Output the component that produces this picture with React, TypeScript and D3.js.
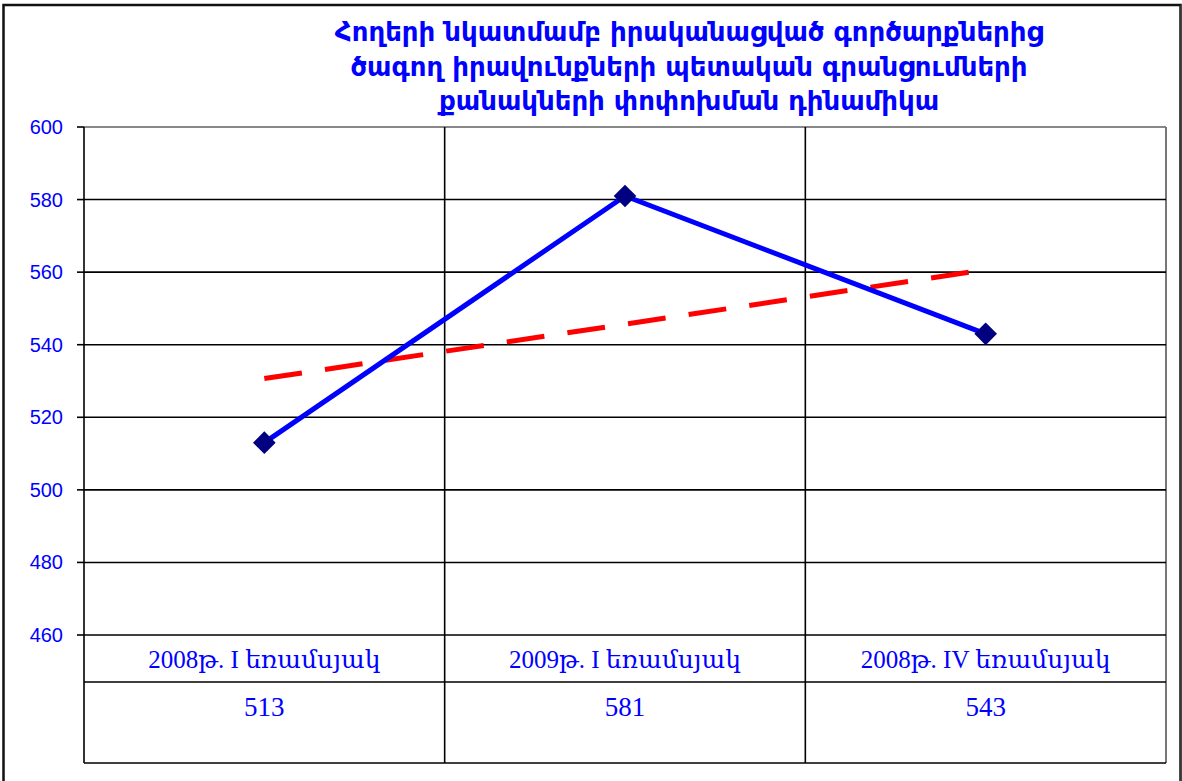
import React from "react";
import * as d3 from "d3";

const categories = ["2008թ. I եռամսյակ", "2009թ. I եռամսյակ", "2008թ. IV եռամսյակ"];
const values = [513, 581, 543];
const yTicks = [460, 480, 500, 520, 540, 560, 580, 600];
const titleLines = [
  "Հողերի նկատմամբ իրականացված գործարքներից",
  "ծագող իրավունքների պետական գրանցումների",
  "քանակների փոփոխման դինամիկա",
];

const W = 1182;
const H = 781;
const plotL = 84;
const plotR = 1166;
const plotT = 127;
const plotB = 635;
const row1B = 682;
const tableB = 763;

export default function App() {
  const x = d3
    .scaleBand<string>()
    .domain(categories)
    .range([plotL, plotR]);
  const cx = (i: number) => (x(categories[i]) as number) + x.bandwidth() / 2;
  const y = d3.scaleLinear().domain([460, 600]).range([plotB, plotT]);

  // linear trendline (least squares) over category index
  const n = values.length;
  const mx = d3.mean(d3.range(n)) as number;
  const my = d3.mean(values) as number;
  const slope =
    d3.sum(d3.range(n), (i) => (i - mx) * (values[i] - my)) /
    d3.sum(d3.range(n), (i) => (i - mx) * (i - mx));
  const icpt = my - slope * mx;
  const trend = d3.range(n).map((i) => icpt + slope * i);

  const line = d3
    .line<number>()
    .x((_, i) => cx(i))
    .y((d) => y(d));
  const trendLine = d3
    .line<number>()
    .x((_, i) => cx(i === 0 ? 0 : n - 1))
    .y((d) => y(d));

  const blue = "#0000ff";

  return (
    <svg
      width={W}
      height={H}
      style={{ position: "absolute", left: 0, top: 0 }}
    >
      <rect x={0} y={0} width={W} height={H} fill="#fff" />
      {/* outer border */}
      <rect
        x={3.5}
        y={5}
        width={1177}
        height={790}
        fill="none"
        stroke="#111"
        strokeWidth={2.5}
      />
      <line x1={1181} y1={5} x2={1181} y2={H} stroke="#444" strokeWidth={1.5} />

      {/* title */}
      {titleLines.map((t, i) => (
        <text
          key={i}
          x={689}
          y={41 + i * 34.5}
          textAnchor="middle"
          fill={blue}
          fontFamily="DejaVu Sans, sans-serif"
          fontWeight="bold"
          fontSize={26}
        >
          {t}
        </text>
      ))}

      {/* plot top and right border */}
      <line x1={plotL} y1={plotT} x2={plotR} y2={plotT} stroke="#888" strokeWidth={2} />
      <line x1={plotR} y1={plotT} x2={plotR} y2={tableB} stroke="#777" strokeWidth={2} />

      {/* horizontal gridlines */}
      {yTicks.map((t) => (
        <g key={t}>
          {t !== 600 && (
            <line x1={plotL} x2={plotR} y1={y(t)} y2={y(t)} stroke="#000" strokeWidth={1.6} />
          )}
          <line x1={77} x2={plotL} y1={y(t)} y2={y(t)} stroke="#000" strokeWidth={1.6} />
          <text
            x={63}
            y={y(t) + 7}
            textAnchor="end"
            fill={blue}
            fontFamily="Liberation Sans, Arial, sans-serif"
            fontSize={20}
          >
            {t}
          </text>
        </g>
      ))}

      {/* vertical category dividers through plot and table */}
      {categories.slice(1).map((c) => (
        <line
          key={c}
          x1={x(c) as number}
          x2={x(c) as number}
          y1={plotT}
          y2={tableB}
          stroke="#000"
          strokeWidth={1.6}
        />
      ))}
      {/* left axis */}
      <line x1={plotL} x2={plotL} y1={plotT} y2={tableB} stroke="#000" strokeWidth={1.6} />

      {/* table lines */}
      <line x1={plotL} x2={plotR} y1={row1B} y2={row1B} stroke="#000" strokeWidth={1.6} />
      <line x1={plotL} x2={plotR} y1={tableB} y2={tableB} stroke="#000" strokeWidth={1.6} />

      {categories.map((c, i) => (
        <g key={c}>
          <text
            x={cx(i)}
            y={668}
            textAnchor="middle"
            fill={blue}
            fontFamily="Liberation Serif, DejaVu Serif, serif"
            fontSize={25}
          >
            {c}
          </text>
          <text
            x={cx(i)}
            y={716}
            textAnchor="middle"
            fill={blue}
            fontFamily="Liberation Serif, DejaVu Serif, serif"
            fontSize={27}
          >
            {values[i]}
          </text>
        </g>
      ))}

      {/* trendline */}
      <path
        d={trendLine([trend[0], trend[n - 1]]) as string}
        fill="none"
        stroke="#ff0000"
        strokeWidth={5}
        strokeDasharray="38 23.3"
      />

      {/* data line */}
      <path d={line(values) as string} fill="none" stroke={blue} strokeWidth={5} />
      {values.map((v, i) => (
        <rect
          key={i}
          x={cx(i) - 8}
          y={y(v) - 8}
          width={16}
          height={16}
          fill="#000080"
          transform={`rotate(45 ${cx(i)} ${y(v)})`}
        />
      ))}
    </svg>
  );
}
